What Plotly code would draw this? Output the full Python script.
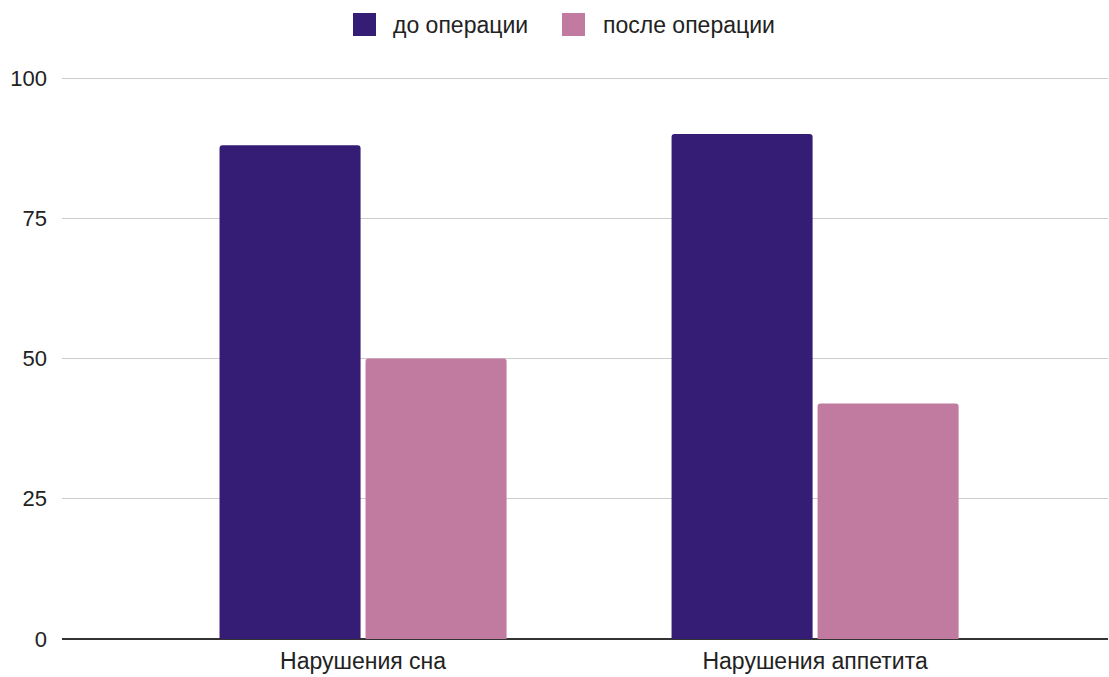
import plotly.graph_objects as go

categories = ["Нарушения сна", "Нарушения аппетита"]
series_names = ["до операции", "после операции"]
before_values = [88, 90]
after_values = [50, 42]
y_ticks = [0, 25, 50, 75, 100]

colors = ["#351c75", "#c27ba0"]
font = "Liberation Sans, Arial, sans-serif"
text_color = "#222222"

W, H = 1109, 677
M = dict(l=62, r=1, t=76, b=38)
plot_w = W - M["l"] - M["r"]
plot_h = H - M["t"] - M["b"]


def px_to_paper(px, py):
    """Convert page pixel position to paper coordinates."""
    return (px - M["l"]) / plot_w, (H - M["b"] - py) / plot_h


fig = go.Figure()
for name, vals, col in zip(series_names, [before_values, after_values], colors):
    fig.add_trace(go.Bar(
        x=categories, y=vals, name=name,
        marker=dict(color=col, line=dict(width=0), cornerradius=3),
        hoverinfo="x+y+name", showlegend=False,
    ))

# Legend drawn as swatches with labels across the top
legend_items = [(353, 391), (562, 601)]
for (sx, tx), name, col in zip(legend_items, series_names, colors):
    x0, y0 = px_to_paper(sx, 36)
    x1, y1 = px_to_paper(sx + 23, 13)
    fig.add_shape(type="rect", xref="paper", yref="paper",
                  x0=x0, y0=y0, x1=x1, y1=y1,
                  fillcolor=col, line=dict(width=0), layer="above")
    ax, ay = px_to_paper(tx, 25)
    fig.add_annotation(xref="paper", yref="paper", x=ax, y=ay,
                       xanchor="left", yanchor="middle", showarrow=False,
                       text=name, font=dict(size=23, color=text_color, family=font))

fig.update_layout(
    width=W, height=H,
    margin=M,
    paper_bgcolor="white", plot_bgcolor="white",
    barmode="group", bargap=0.354, bargroupgap=0.034,
    font=dict(family=font, size=23, color=text_color),
    showlegend=False,
    xaxis=dict(range=[-0.666, 1.648], showgrid=False, showline=False,
               ticks="", ticklabelstandoff=6,
               tickfont=dict(size=23, color=text_color)),
    yaxis=dict(range=[0, 100.36], tickvals=y_ticks, showgrid=True,
               gridcolor="#cccccc", gridwidth=1, zeroline=True,
               zerolinecolor="#333333", zerolinewidth=1.5, showline=False,
               ticks="", ticklabelstandoff=14,
               tickfont=dict(size=22, color=text_color)),
)

fig.write_html("out.html")
